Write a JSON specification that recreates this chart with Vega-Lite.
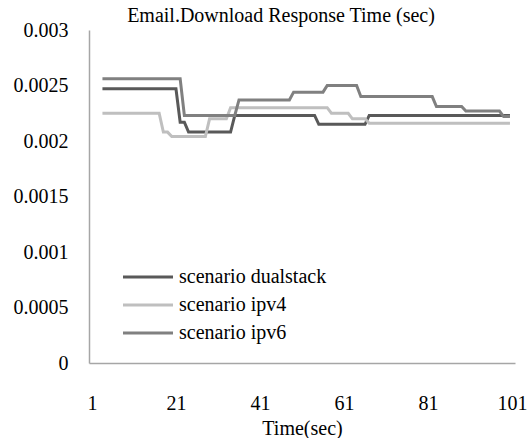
{
  "$schema": "https://vega.github.io/schema/vega-lite/v6.json",
  "width": 426,
  "height": 333,
  "autosize": {"type": "none"},
  "padding": {"left": 89, "top": 30, "right": 15, "bottom": 75},
  "background": "white",
  "title": {
    "text": "Email.Download Response Time (sec)",
    "font": "Liberation Serif",
    "fontSize": 20,
    "fontWeight": "normal",
    "color": "#000000",
    "anchor": "middle",
    "frame": "group",
    "dx": -21,
    "dy": 22,
    "baseline": "alphabetic",
    "offset": 0
  },
  "data": {
    "values": [
      {"t": 3.5, "v": 0.00247, "s": "scenario dualstack"},
      {"t": 21, "v": 0.00247, "s": "scenario dualstack"},
      {"t": 22, "v": 0.00217, "s": "scenario dualstack"},
      {"t": 23, "v": 0.00217, "s": "scenario dualstack"},
      {"t": 24, "v": 0.00208, "s": "scenario dualstack"},
      {"t": 34, "v": 0.00208, "s": "scenario dualstack"},
      {"t": 35, "v": 0.00223, "s": "scenario dualstack"},
      {"t": 54, "v": 0.00223, "s": "scenario dualstack"},
      {"t": 55, "v": 0.00215, "s": "scenario dualstack"},
      {"t": 66, "v": 0.00215, "s": "scenario dualstack"},
      {"t": 67, "v": 0.00223, "s": "scenario dualstack"},
      {"t": 100.5, "v": 0.00223, "s": "scenario dualstack"},

      {"t": 3.5, "v": 0.00225, "s": "scenario ipv4"},
      {"t": 17, "v": 0.00225, "s": "scenario ipv4"},
      {"t": 18, "v": 0.00208, "s": "scenario ipv4"},
      {"t": 19, "v": 0.00208, "s": "scenario ipv4"},
      {"t": 20, "v": 0.00204, "s": "scenario ipv4"},
      {"t": 28, "v": 0.00204, "s": "scenario ipv4"},
      {"t": 29, "v": 0.0022, "s": "scenario ipv4"},
      {"t": 33, "v": 0.0022, "s": "scenario ipv4"},
      {"t": 34, "v": 0.0023, "s": "scenario ipv4"},
      {"t": 57, "v": 0.0023, "s": "scenario ipv4"},
      {"t": 58, "v": 0.00225, "s": "scenario ipv4"},
      {"t": 62, "v": 0.00225, "s": "scenario ipv4"},
      {"t": 63, "v": 0.0022, "s": "scenario ipv4"},
      {"t": 66, "v": 0.0022, "s": "scenario ipv4"},
      {"t": 67, "v": 0.00216, "s": "scenario ipv4"},
      {"t": 100.5, "v": 0.00216, "s": "scenario ipv4"},

      {"t": 3.5, "v": 0.00256, "s": "scenario ipv6"},
      {"t": 22, "v": 0.00256, "s": "scenario ipv6"},
      {"t": 23, "v": 0.00223, "s": "scenario ipv6"},
      {"t": 35, "v": 0.00223, "s": "scenario ipv6"},
      {"t": 36, "v": 0.00237, "s": "scenario ipv6"},
      {"t": 48, "v": 0.00237, "s": "scenario ipv6"},
      {"t": 49, "v": 0.00244, "s": "scenario ipv6"},
      {"t": 56, "v": 0.00244, "s": "scenario ipv6"},
      {"t": 57, "v": 0.0025, "s": "scenario ipv6"},
      {"t": 64, "v": 0.0025, "s": "scenario ipv6"},
      {"t": 65, "v": 0.0024, "s": "scenario ipv6"},
      {"t": 82, "v": 0.0024, "s": "scenario ipv6"},
      {"t": 83, "v": 0.00231, "s": "scenario ipv6"},
      {"t": 89, "v": 0.00231, "s": "scenario ipv6"},
      {"t": 90, "v": 0.00227, "s": "scenario ipv6"},
      {"t": 98, "v": 0.00227, "s": "scenario ipv6"},
      {"t": 99, "v": 0.00222, "s": "scenario ipv6"},
      {"t": 100.5, "v": 0.00222, "s": "scenario ipv6"}
    ]
  },
  "mark": {"type": "line", "strokeWidth": 3, "interpolate": "linear"},
  "encoding": {
    "x": {
      "field": "t",
      "type": "quantitative",
      "scale": {"domain": [0.3, 101.7], "nice": false, "zero": false},
      "axis": {
        "values": [1, 21, 41, 61, 81, 101],
        "title": "Time(sec)",
        "grid": false,
        "ticks": false,
        "domainColor": "#a6a6a6",
        "domainWidth": 1.5,
        "labelPadding": 30,
        "labelBaseline": "top",
        "labelFlush": false,
        "titleFontWeight": "normal",
        "titlePadding": 5
      }
    },
    "y": {
      "field": "v",
      "type": "quantitative",
      "scale": {"domain": [0, 0.003], "nice": false},
      "axis": {
        "values": [0, 0.0005, 0.001, 0.0015, 0.002, 0.0025, 0.003],
        "format": "~g",
        "title": null,
        "grid": false,
        "ticks": false,
        "domainColor": "#a6a6a6",
        "domainWidth": 1.5,
        "labelPadding": 21,
        "labelFlush": false
      }
    },
    "color": {
      "field": "s",
      "type": "nominal",
      "scale": {
        "domain": ["scenario dualstack", "scenario ipv4", "scenario ipv6"],
        "range": ["#595959", "#bfbfbf", "#808080"]
      },
      "legend": {
        "orient": "none",
        "legendX": 29,
        "legendY": 237,
        "title": null,
        "padding": 0,
        "symbolType": "M-1,0H9",
        "symbolSize": 100,
        "symbolStrokeWidth": 3,
        "labelOffset": 41,
        "labelFontSize": 20,
        "labelColor": "#000000",
        "rowPadding": 8
      }
    }
  },
  "config": {
    "view": {"stroke": null},
    "font": "Liberation Serif",
    "axis": {
      "labelFont": "Liberation Serif",
      "labelFontSize": 20,
      "labelColor": "#000000",
      "titleFont": "Liberation Serif",
      "titleFontSize": 20,
      "titleColor": "#000000"
    },
    "legend": {"labelFont": "Liberation Serif"}
  }
}
